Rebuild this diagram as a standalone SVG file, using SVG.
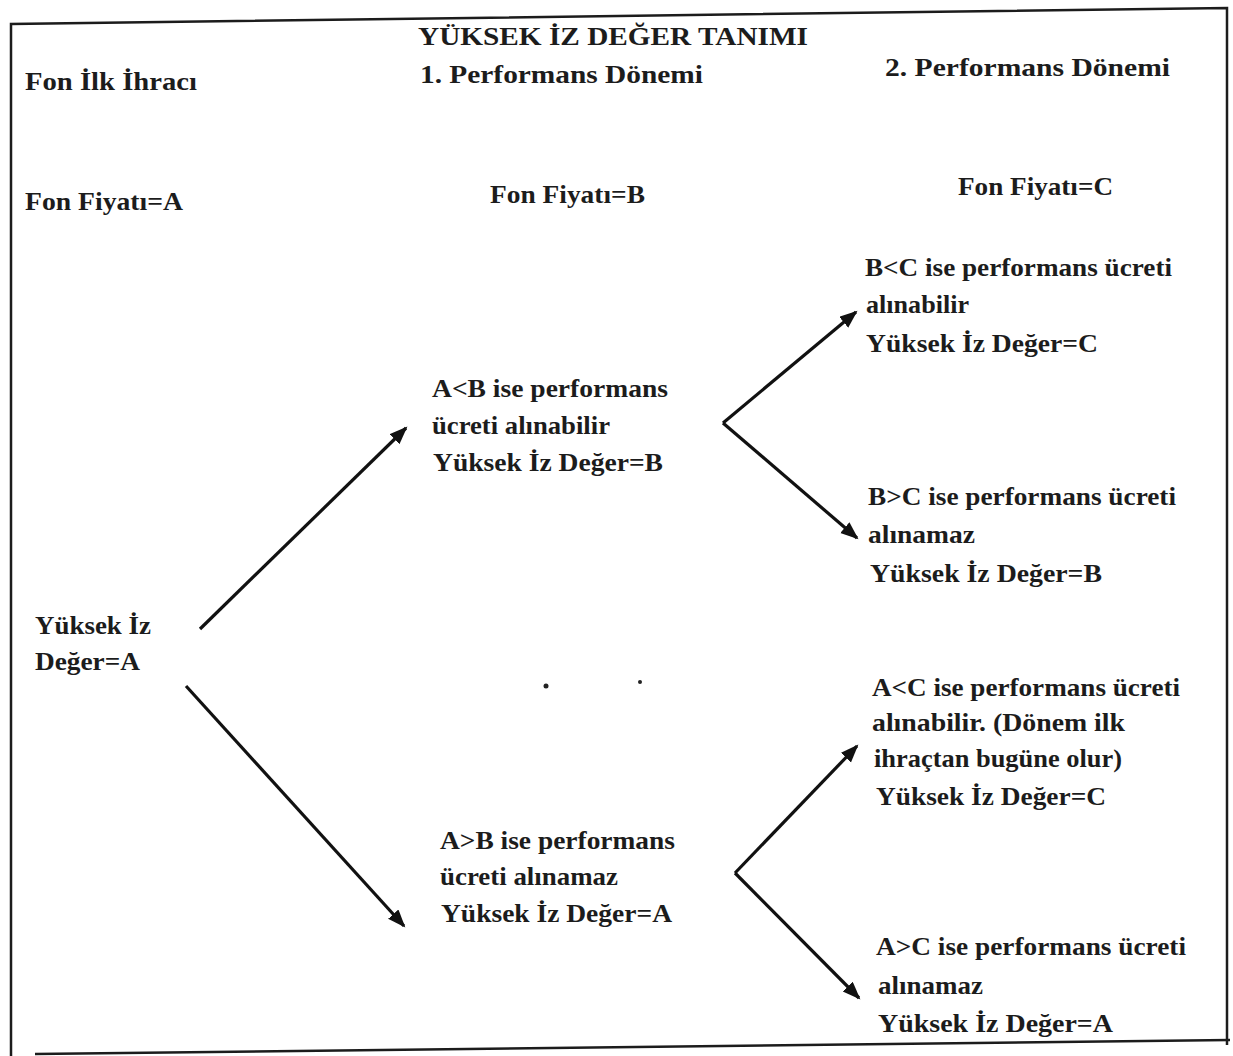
<svg xmlns="http://www.w3.org/2000/svg" width="1233" height="1056" viewBox="0 0 1233 1056">
<style>
text{font-family:"Liberation Serif","DejaVu Serif",serif;fill:#1c1c1c;font-size:26px;font-weight:bold;}
.h{font-size:25px;}
.frame{fill:none;stroke:#1c1c1c;stroke-width:2.5;}
.arr{fill:none;stroke:#111;stroke-width:3.2;marker-end:url(#ah);}
</style>
<defs>
<marker id="ah" markerUnits="userSpaceOnUse" markerWidth="20" markerHeight="16" refX="16" refY="7" orient="auto">
<path d="M0,0 L18,7 L0,14 Z" fill="#111"/>
</marker>
</defs>
<rect width="1233" height="1056" fill="#fff"/>
<g id="frame">
<path class="frame" d="M11,1056 L11,24 L1227,8 L1227,1045"/>
<path class="frame" d="M35,1054 L1230,1040"/>
</g>
<g id="header">
<text class="h" x="418" y="45" textLength="390" lengthAdjust="spacingAndGlyphs">YÜKSEK İZ DEĞER TANIMI</text>
<text class="h" x="25" y="90" textLength="172" lengthAdjust="spacingAndGlyphs">Fon İlk İhracı</text>
<text class="h" x="420" y="83" textLength="283" lengthAdjust="spacingAndGlyphs">1. Performans Dönemi</text>
<text class="h" x="885" y="76" textLength="285" lengthAdjust="spacingAndGlyphs">2. Performans Dönemi</text>
</g>
<g id="prices">
<text x="25" y="210" textLength="158" lengthAdjust="spacingAndGlyphs">Fon Fiyatı=A</text>
<text x="490" y="203" textLength="155" lengthAdjust="spacingAndGlyphs">Fon Fiyatı=B</text>
<text x="958" y="195" textLength="155" lengthAdjust="spacingAndGlyphs">Fon Fiyatı=C</text>
</g>
<g id="node-start">
<text x="35" y="634" textLength="116" lengthAdjust="spacingAndGlyphs">Yüksek İz</text>
<text x="35" y="670" textLength="105" lengthAdjust="spacingAndGlyphs">Değer=A</text>
</g>
<g id="node-ab-up">
<text x="432" y="397" textLength="236" lengthAdjust="spacingAndGlyphs">A&lt;B ise performans</text>
<text x="432" y="434" textLength="178" lengthAdjust="spacingAndGlyphs">ücreti alınabilir</text>
<text x="433" y="471" textLength="230" lengthAdjust="spacingAndGlyphs">Yüksek İz Değer=B</text>
</g>
<g id="node-ab-down">
<text x="440" y="849" textLength="235" lengthAdjust="spacingAndGlyphs">A&gt;B ise performans</text>
<text x="440" y="885" textLength="178" lengthAdjust="spacingAndGlyphs">ücreti alınamaz</text>
<text x="441" y="922" textLength="231" lengthAdjust="spacingAndGlyphs">Yüksek İz Değer=A</text>
</g>
<g id="node-bc-up">
<text x="865" y="276" textLength="307" lengthAdjust="spacingAndGlyphs">B&lt;C ise performans ücreti</text>
<text x="866" y="313" textLength="103" lengthAdjust="spacingAndGlyphs">alınabilir</text>
<text x="866" y="352" textLength="232" lengthAdjust="spacingAndGlyphs">Yüksek İz Değer=C</text>
</g>
<g id="node-bc-down">
<text x="868" y="505" textLength="308" lengthAdjust="spacingAndGlyphs">B&gt;C ise performans ücreti</text>
<text x="868" y="543" textLength="107" lengthAdjust="spacingAndGlyphs">alınamaz</text>
<text x="870" y="582" textLength="232" lengthAdjust="spacingAndGlyphs">Yüksek İz Değer=B</text>
</g>
<g id="node-ac-up">
<text x="872" y="696" textLength="308" lengthAdjust="spacingAndGlyphs">A&lt;C ise performans ücreti</text>
<text x="872" y="731" textLength="253" lengthAdjust="spacingAndGlyphs">alınabilir. (Dönem ilk</text>
<text x="874" y="767" textLength="248" lengthAdjust="spacingAndGlyphs">ihraçtan bugüne olur)</text>
<text x="876" y="805" textLength="230" lengthAdjust="spacingAndGlyphs">Yüksek İz Değer=C</text>
</g>
<g id="node-ac-down">
<text x="876" y="955" textLength="310" lengthAdjust="spacingAndGlyphs">A&gt;C ise performans ücreti</text>
<text x="878" y="994" textLength="105" lengthAdjust="spacingAndGlyphs">alınamaz</text>
<text x="878" y="1032" textLength="235" lengthAdjust="spacingAndGlyphs">Yüksek İz Değer=A</text>
</g>
<g id="connectors">
<line class="arr" x1="200" y1="629" x2="406" y2="428"/>
<line class="arr" x1="186" y1="686" x2="404" y2="926"/>
<line class="arr" x1="723" y1="423" x2="856" y2="312"/>
<line class="arr" x1="723" y1="423" x2="857" y2="538"/>
<line class="arr" x1="735" y1="873" x2="857" y2="746"/>
<line class="arr" x1="735" y1="873" x2="859" y2="998"/>
</g>
<g id="specks" fill="#222">
<circle cx="546" cy="686" r="2.5"/>
<circle cx="640" cy="682" r="2"/>
</g>
</svg>
